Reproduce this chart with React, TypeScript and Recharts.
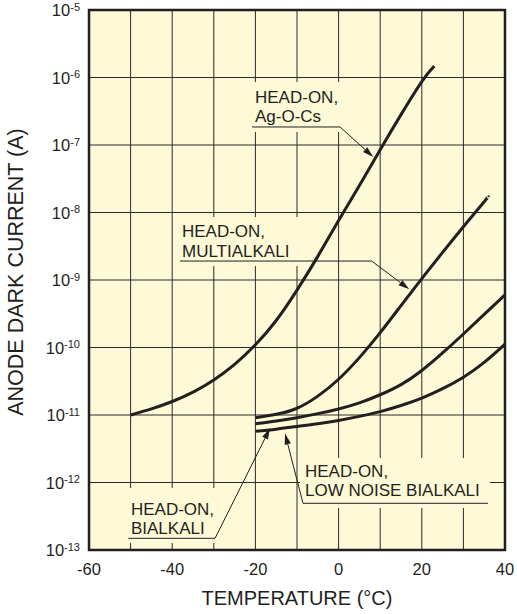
import React from 'react';
import { LineChart, Line, XAxis, YAxis, CartesianGrid, ReferenceArea, ReferenceLine, Label } from 'recharts';

// temperature (°C) and log10 of anode dark current (A)
const agOCsTemp = [-50, -45, -40, -35, -30, -25, -20, -15, -10, -5, 0, 5, 10, 15, 20, 23];
const agOCsLog = [-11.0, -10.91, -10.8, -10.66, -10.48, -10.25, -9.96, -9.6, -9.15, -8.65, -8.12, -7.6, -7.07, -6.55, -6.06, -5.83];

const multiTemp = [-20, -15, -10, -5, 0, 5, 10, 15, 20, 25, 30, 35, 36];
const multiLog = [-11.04, -10.99, -10.9, -10.72, -10.47, -10.15, -9.78, -9.38, -8.98, -8.59, -8.21, -7.84, -7.77];

const bialkaliTemp = [-20, -15, -10, -5, 0, 5, 10, 15, 20, 25, 30, 35, 40];
const bialkaliLog = [-11.13, -11.09, -11.04, -10.98, -10.91, -10.82, -10.7, -10.55, -10.34, -10.08, -9.8, -9.51, -9.22];

const lowNoiseTemp = [-20, -15, -10, -5, 0, 5, 10, 15, 20, 25, 30, 35, 40];
const lowNoiseLog = [-11.24, -11.21, -11.17, -11.13, -11.08, -11.02, -10.95, -10.86, -10.75, -10.61, -10.44, -10.22, -9.95];

const xTicks = [-60, -50, -40, -30, -20, -10, 0, 10, 20, 30, 40];
const xTickLabels = ['-60', '', '-40', '', '-20', '', '0', '', '20', '', '40'];
const yTicks = [-13, -12, -11, -10, -9, -8, -7, -6, -5];
const yTickLabels = ['-13', '-12', '-11', '-10', '-9', '-8', '-7', '-6', '-5'];

const toPoints = (temps: number[], logs: number[]) => temps.map((t, i) => ({ t, v: logs[i] }));

const FONT = '"Liberation Sans", Arial, Helvetica, sans-serif';
const INK = '#231f20';
const PAPER = '#fef9d6';

// callouts: text box, underline, leader with arrow (data coordinates)
const callouts = [
  {
    lines: ['HEAD-ON,', 'Ag-O-Cs'], first: 20.5,
    box: [-21.3, 1.06, -6.067, -6.807],
    under: [-20.82, 0.34, -6.733],
    tip: [8.34, -7.178],
  },
  {
    lines: ['HEAD-ON,', 'MULTIALKALI'], first: 20,
    box: [-38.85, -9.04, -8.067, -8.793],
    under: [-38.13, 7.96, -8.719],
    tip: [16.99, -9.138],
  },
  {
    lines: ['HEAD-ON,', 'LOW NOISE BIALKALI'], first: 19,
    box: [-9.28, 36.39, -11.637, -12.378],
    under: [-8.56, 35.91, -12.308],
    tip: [-12.88, -11.274],
    leaderFromLeft: true,
  },
  {
    lines: ['HEAD-ON,', 'BIALKALI'], first: 27,
    box: [-51.11, -28.99, -12.081, -12.896],
    under: [-50.55, -29.71, -12.827],
    tip: [-16.49, -11.197],
  },
];

const XTick = (props: any) => {
  const { x, y, index } = props;
  return (
    <text x={x} y={y} dy={25} textAnchor="middle" fontSize={16.5} fontFamily={FONT} fill={INK}>
      {xTickLabels[index] ?? ''}
    </text>
  );
};

const YTick = (props: any) => {
  const { x, y, index } = props;
  return (
    <text x={x} y={y} textAnchor="end" fontFamily={FONT} fill={INK}>
      <tspan fontSize={16.5} dy={6}>10</tspan>
      <tspan fontSize={11} dy={-5.5}>{yTickLabels[index]}</tspan>
    </text>
  );
};

const Leader = (props: any) => {
  const { x1, y1, x2, y2 } = props;
  if ([x1, y1, x2, y2].some((n) => typeof n !== 'number' || isNaN(n))) return null;
  const ang = Math.atan2(y2 - y1, x2 - x1);
  const len = 11;
  const half = 3.2;
  const bx = x2 - len * Math.cos(ang);
  const by = y2 - len * Math.sin(ang);
  const px = -Math.sin(ang) * half;
  const py = Math.cos(ang) * half;
  return (
    <g>
      <line x1={x1} y1={y1} x2={bx} y2={by} stroke={INK} strokeWidth={1} />
      <polygon points={`${x2},${y2} ${bx + px},${by + py} ${bx - px},${by - py}`} fill={INK} />
    </g>
  );
};

const makeBox = (lines: string[], first: number) => (props: any) => {
  const { x, y, width, height } = props;
  if ([x, y, width, height].some((n) => typeof n !== 'number' || isNaN(n))) return null;
  return (
    <g>
      <rect x={x} y={y} width={width} height={height} fill={PAPER} stroke="none" />
      {lines.map((s, i) => (
        <text key={i} x={x + 5} y={y + first + i * 19.5} fontSize={17} fontFamily={FONT} fill={INK}>
          {s}
        </text>
      ))}
    </g>
  );
};

const YTitle = (props: any) => {
  const { viewBox } = props;
  const cx = viewBox.x + 15.5;
  const cy = 272;
  return (
    <text x={cx} y={cy} transform={`rotate(-90 ${cx} ${cy})`} textAnchor="middle" dominantBaseline="central"
      fontSize={21.5} fontFamily={FONT} fill={INK}>
      ANODE DARK CURRENT (A)
    </text>
  );
};

export default function App() {
  return (
    <div style={{ position: 'absolute', left: 0, top: 0, width: 517, height: 614, background: '#fff' }}>
      <LineChart width={517} height={614} margin={{ top: 10, right: 12, bottom: 0, left: 0 }}>
        <CartesianGrid stroke="#2a2a2a" strokeWidth={1} fill={PAPER} fillOpacity={1} />
        <XAxis
          type="number"
          dataKey="t"
          domain={[-60, 40]}
          ticks={xTicks}
          interval={0}
          allowDataOverflow
          axisLine={false}
          tickLine={false}
          tickSize={0}
          tickMargin={0}
          height={64}
          tick={<XTick />}
        >
          <Label value="TEMPERATURE (°C)" position="insideBottom" offset={9}
            style={{ fontSize: 20, fontFamily: FONT, fill: INK }} />
        </XAxis>
        <YAxis
          type="number"
          domain={[-13, -5]}
          ticks={yTicks}
          interval={0}
          allowDataOverflow
          axisLine={false}
          tickLine={false}
          tickSize={0}
          tickMargin={9}
          width={89}
          tick={<YTick />}
        >
          <Label content={<YTitle />} />
        </YAxis>

        {callouts.map((c, i) => (
          <ReferenceArea key={`box${i}`} x1={c.box[0]} x2={c.box[1]} y1={c.box[2]} y2={c.box[3]}
            shape={makeBox(c.lines, c.first)} />
        ))}

        <Line data={toPoints(agOCsTemp, agOCsLog)} dataKey="v" type="natural" stroke={INK} strokeWidth={3} dot={false} isAnimationActive={false} />
        <Line data={toPoints(multiTemp, multiLog)} dataKey="v" type="natural" stroke={INK} strokeWidth={3} dot={false} isAnimationActive={false} />
        <Line data={toPoints(bialkaliTemp, bialkaliLog)} dataKey="v" type="natural" stroke={INK} strokeWidth={3} dot={false} isAnimationActive={false} />
        <Line data={toPoints(lowNoiseTemp, lowNoiseLog)} dataKey="v" type="natural" stroke={INK} strokeWidth={3} dot={false} isAnimationActive={false} />

        {callouts.map((c, i) => (
          <ReferenceLine key={`u${i}`} segment={[{ x: c.under[0], y: c.under[2] }, { x: c.under[1], y: c.under[2] }]}
            stroke={INK} strokeWidth={1} />
        ))}
        {callouts.map((c, i) => {
          const start = c.leaderFromLeft ? c.under[0] : c.under[1];
          return (
            <ReferenceLine key={`l${i}`} segment={[{ x: start, y: c.under[2] }, { x: c.tip[0], y: c.tip[1] }]}
              shape={<Leader />} />
          );
        })}

        <ReferenceArea x1={-60} x2={40} y1={-13} y2={-5} fill="none" stroke={INK} strokeWidth={2.5} />
      </LineChart>
    </div>
  );
}
